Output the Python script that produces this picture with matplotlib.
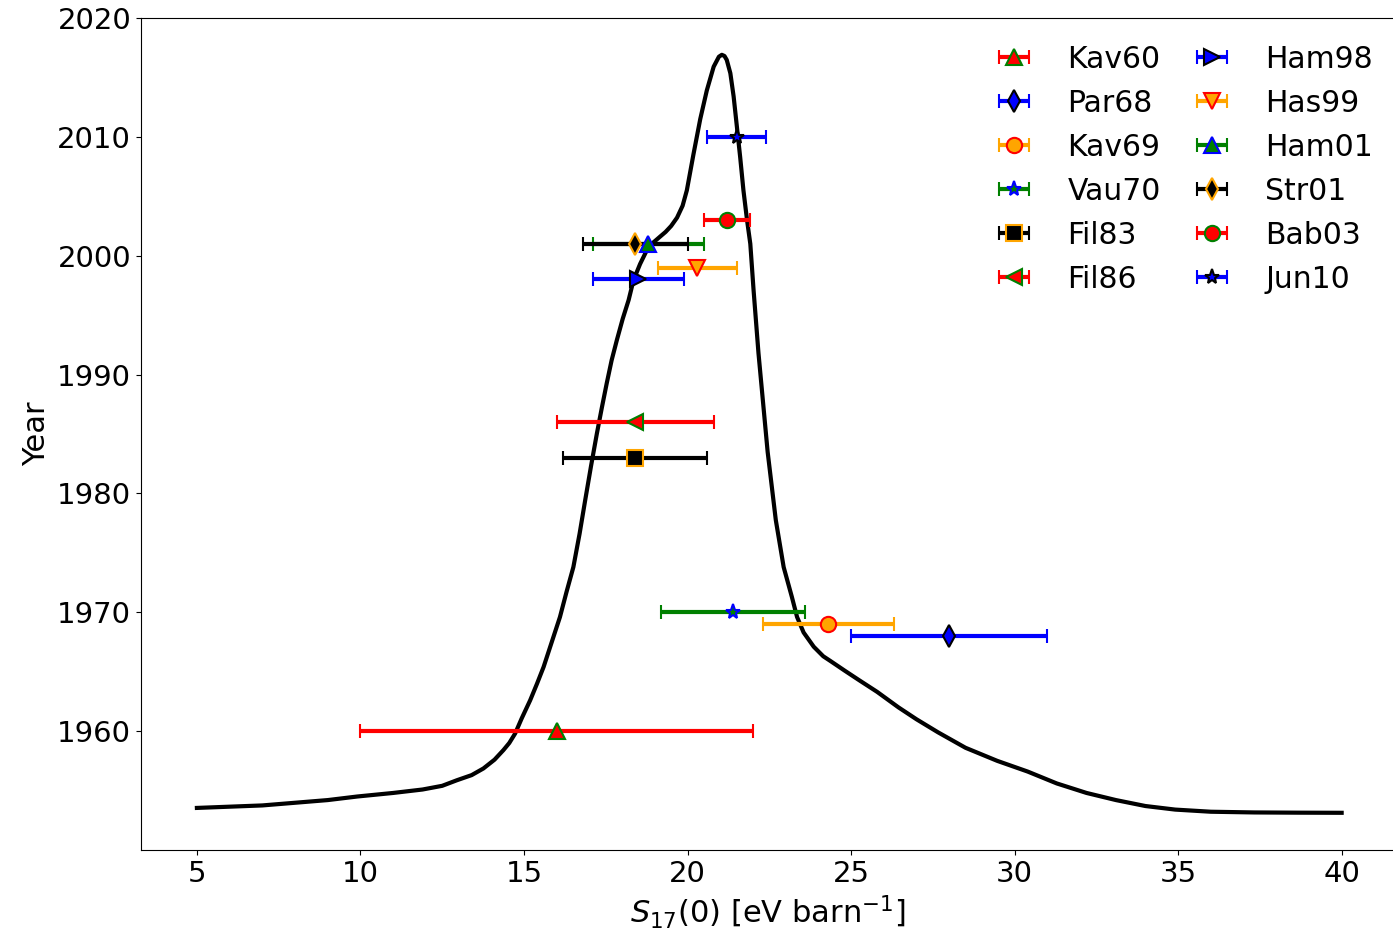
import numpy as np
from matplotlib import pyplot as plt

# medidas de S17(0)
labels = ['Kav60', 'Par68', 'Kav69', 'Vau70', 'Fil83', 'Fil86',
          'Ham98', 'Has99', 'Ham01', 'Str01', 'Bab03', 'Jun10']
years = [1960, 1968, 1969, 1970, 1983, 1986, 1998, 1999, 2001, 2001, 2003, 2010]
s17 = [16.0, 28.0, 24.3, 21.4, 18.4, 18.4, 18.5, 20.3, 18.8, 18.4, 21.2, 21.5]
s17_err = [6.0, 3.0, 2.0, 2.2, 2.2, 2.4, 1.4, 1.2, 1.7, 1.6, 0.7, 0.9]

# estilo de cada punto: color barra, marcador, color borde
bar_colors = ['red', 'blue', 'orange', 'green', 'black', 'red',
              'blue', 'orange', 'green', 'black', 'red', 'blue']
markers = ['^', 'd', 'o', '*', 's', '<', '>', 'v', '^', 'd', 'o', '*']
edge_colors = ['green', 'black', 'red', 'blue', 'orange', 'green',
               'black', 'red', 'blue', 'orange', 'green', 'black']

# curva negra
curve_x = [5.0, 7.0, 9.0, 9.9, 11.0, 11.9, 12.5, 12.95, 13.4, 13.76, 14.1, 14.37,
           14.55, 14.73, 14.93, 15.19, 15.4, 15.6, 15.85, 16.1, 16.3, 16.51,
           16.7, 16.87, 17.05, 17.23, 17.38, 17.53, 17.68, 17.84, 18.02, 18.2,
           18.35, 18.55, 18.76, 18.95, 19.16, 19.33, 19.5, 19.68, 19.85, 19.98,
           20.18, 20.39, 20.59, 20.8, 20.96, 21.05, 21.13, 21.2, 21.31, 21.41,
           21.51, 21.61, 21.71, 21.82, 21.92, 22.02, 22.17, 22.45, 22.7, 22.94,
           23.19, 23.35, 23.55, 23.86, 24.15, 24.37, 24.8, 25.24, 25.8, 26.45,
           27.0, 27.66, 28.5, 29.47, 30.4, 31.29, 32.2, 33.1, 34.0, 34.91, 36.0,
           37.33, 38.7, 40.0]
curve_y = [1953.54, 1953.75, 1954.2, 1954.5, 1954.8, 1955.09, 1955.4, 1955.87,
           1956.3, 1956.86, 1957.6, 1958.4, 1959.0, 1959.8, 1961.07, 1962.6,
           1964.0, 1965.4, 1967.5, 1969.6, 1971.7, 1973.8, 1976.6, 1979.4,
           1982.3, 1985.05, 1987.2, 1989.26, 1991.2, 1992.9, 1994.7, 1996.27,
           1997.95, 1999.3, 2000.48, 2001.1, 2001.6, 2002.0, 2002.5, 2003.2,
           2004.2, 2005.5, 2008.5, 2011.5, 2013.9, 2015.9, 2016.74, 2016.9,
           2016.8, 2016.47, 2015.35, 2013.4, 2010.85, 2008.3, 2005.5, 2003.0,
           2001.0, 1997.1, 1991.8, 1983.5, 1977.75, 1973.8, 1971.3, 1969.6,
           1968.3, 1967.1, 1966.3, 1965.9, 1965.1, 1964.3, 1963.3, 1962.0,
           1961.0, 1959.9, 1958.6, 1957.5, 1956.6, 1955.6, 1954.8, 1954.2,
           1953.7, 1953.4, 1953.22, 1953.16, 1953.14, 1953.13]

plt.rcParams['font.size'] = 21

fig = plt.figure(figsize=(13.93, 9.31), dpi=100)
ax = fig.add_axes([0.1012, 0.087, 0.8995, 0.8937])

ax.plot(curve_x, curve_y, color='black', lw=3, solid_joinstyle='round')

for i in range(len(labels)):
    ax.errorbar(s17[i], years[i], xerr=s17_err[i], fmt=markers[i],
                color=bar_colors[i], ecolor=bar_colors[i], elinewidth=3,
                capsize=5, capthick=2, markersize=11,
                markerfacecolor=bar_colors[i], markeredgecolor=edge_colors[i],
                markeredgewidth=1.5, label=labels[i])

ax.set_xlim(3.29, 41.6)
ax.set_ylim(1950, 2020)
ax.set_xticks([5, 10, 15, 20, 25, 30, 35, 40])
ax.set_yticks([1960, 1970, 1980, 1990, 2000, 2010, 2020])
ax.set_xlabel(r'$S_{17}(0)$ [eV barn$^{-1}$]', fontsize=22)
ax.set_ylabel('Year', fontsize=22)

ax.legend(ncol=2, frameon=False, loc='upper right', columnspacing=0.7,
          fontsize=21.5, borderaxespad=0.3, bbox_to_anchor=(1.0, 0.9928))

fig.savefig('out.png', dpi=100)
